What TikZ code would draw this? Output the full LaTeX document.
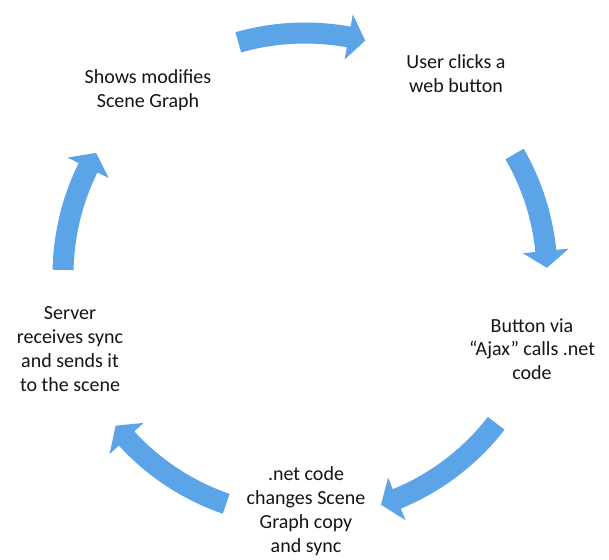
\documentclass[tikz,border=0pt]{standalone}
\usepackage{fontspec}
\setmainfont{Carlito}
\definecolor{cycblue}{RGB}{92,164,232}
\definecolor{txt}{RGB}{20,20,20}
\newcommand\cyclearrow[2]{%
  \pgfmathsetmacro\bp{#2+4.0}%
  \fill[cycarrow] (#1:252.5) arc[start angle=#1, end angle=\bp, radius=252.5]
    -- (\bp:265) -- (#2:242) -- (\bp:219) -- (\bp:231.5)
    arc[start angle=\bp, end angle=#1, radius=231.5] -- cycle;}
\begin{document}
\begin{tikzpicture}[x=1pt,y=1pt,
  lbl/.style={align=center, font=\fontsize{20}{23.8}\selectfont, text=txt, inner sep=0pt},
  cycarrow/.style={fill=cycblue, shift={(c)}}]
\useasboundingbox (0,0) rectangle (609,559);
\coordinate (c) at (305,284);
\node[lbl] (shows) at (148,469) {Shows modifies\\Scene Graph};
\node[lbl] (user) at (456,485) {User clicks a\\web button};
\node[lbl] (button) at (532,210) {Button via\\“Ajax” calls .net\\code};
\node[lbl] (net) at (306,48) {.net code\\changes Scene\\Graph copy\\and sync};
\node[lbl] (server) at (70,210) {Server\\receives sync\\and sends it\\to the scene};
\cyclearrow{106}{75.6}
\cyclearrow{30}{1.7}
\cyclearrow{-37.8}{-71.7}
\cyclearrow{-109}{-141.5}
\cyclearrow{178.8}{149.7}
\end{tikzpicture}
\end{document}
